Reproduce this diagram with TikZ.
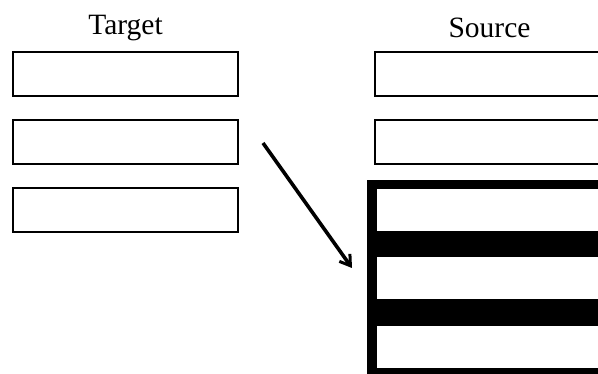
\documentclass[tikz,border=0pt]{standalone}
\usepackage{fontspec}
\setmainfont{Liberation Serif}
\usetikzlibrary{arrows.meta}
\begin{document}
\begin{tikzpicture}[x=1pt,y=-1pt,
  slot/.style={draw=black,line width=1.3pt,fill=white,minimum width=225pt,minimum height=44pt,inner sep=0pt},
  rslot/.style={draw=black,line width=1.3pt,fill=white,minimum width=260pt,minimum height=44pt,inner sep=0pt},
  row/.style={fill=white,draw=none,minimum width=260pt,minimum height=42pt,inner sep=0pt},
  title/.style={font=\fontsize{29.5}{32}\selectfont,inner sep=0pt,anchor=base},
  link/.style={line width=3.6pt,-{Straight Barb[length=10pt,width=13pt,line width=3pt]}}]
  \useasboundingbox (0,0) rectangle (598,374);
  \clip (0,0) rectangle (598,374);
  \fill[white] (0,0) rectangle (598,374);

  % column titles
  \node[title] (tgt) at (125.5,35) {Target};
  \node[title] (src) at (489.5,38) {Source};

  % target slots
  \node[slot] (t1) at (125.5,74) {};
  \node[slot] (t2) at (125.5,142) {};
  \node[slot] (t3) at (125.5,210) {};

  % source slots
  \node[rslot] (s1) at (505,74) {};
  \node[rslot] (s2) at (505,142) {};

  % heavy framed block with three rows
  \fill[black] (367,180) rectangle (640,400);
  \node[row,anchor=north west] (r1) at (377,189) {};
  \node[row,anchor=north west] (r2) at (377,257) {};
  \node[row,anchor=north west] (r3) at (377,326) {};

  % arrow into the block
  \coordinate (from) at (263,143);
  \coordinate (to) at (352,268);
  \draw[link] (from) -- (to);
\end{tikzpicture}
\end{document}
